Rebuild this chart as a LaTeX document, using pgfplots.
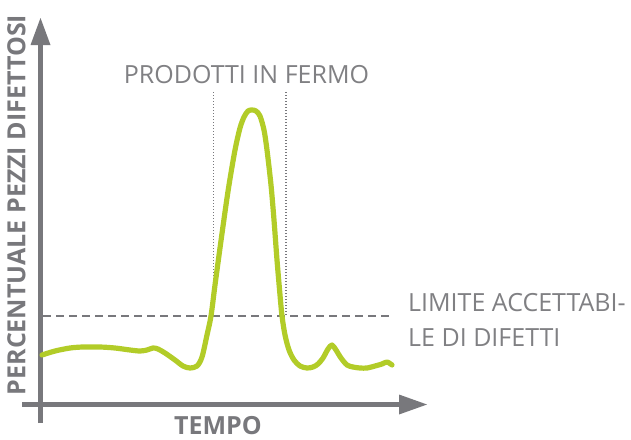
\documentclass[border=0pt]{standalone}
\usepackage{fontspec}
\setmainfont{Open Sans}
\usepackage{pgfplots}
\pgfplotsset{compat=1.18}
\definecolor{axgray}{RGB}{120,120,124}
\definecolor{txtgray}{RGB}{128,128,131}
\definecolor{lime}{RGB}{178,204,40}
\begin{document}
\begin{tikzpicture}
\begin{axis}[
  x=1pt, y=1pt,
  scale only axis,
  xmin=0, xmax=631, ymin=0, ymax=439,
  y dir=reverse,
  hide axis,
  clip=false,
]
\coordinate (ll) at (axis cs:0,439);
\coordinate (ur) at (axis cs:631,0);
% dotted lines
\draw[axgray, line width=1.6pt, dash pattern=on 1.4pt off 1.6pt] (axis cs:213.5,92) -- (axis cs:213.5,316);
\draw[axgray, line width=1.6pt, dash pattern=on 1.4pt off 1.6pt] (axis cs:285.7,92) -- (axis cs:285.7,316);
% dashed limit
\draw[axgray, line width=2.7pt, dash pattern=on 8pt off 5pt] (axis cs:43,316) -- (axis cs:393,316);
% axes
\draw[axgray, line width=5pt] (axis cs:22,404.5) -- (axis cs:401,404.5);
\fill[axgray] (axis cs:399,394.5) -- (axis cs:427,404.5) -- (axis cs:399,414.5) -- cycle;
\draw[axgray, line width=5pt] (axis cs:40.5,423) -- (axis cs:40.5,43);
\fill[axgray] (axis cs:30.5,45) -- (axis cs:40.5,18) -- (axis cs:50.5,45) -- cycle;
% curve
\addplot[lime, line width=5.2pt, smooth, tension=0.5, line cap=round, line join=round] coordinates {
(42,355) (55,351) (70,348) (83,347) (100,347) (115,348) (130,350) (140,351)
(147,350) (153,348) (158,349) (165,353) (175,360) (183,366) (190,368) (197,366)
(202,357) (207,335) (211,316) (215,285) (220,248) (225,212) (229,185) (235,150)
(240,128) (244,117) (248,111) (252,110) (256,111) (260,116) (264,130) (267,150)
(271,185) (274,220) (277,260) (280,295) (282,316) (285,335) (289,350) (294,360)
(300,366) (307,368) (313,367) (318,364) (323,358) (328,349) (332,345) (336,350)
(341,358) (347,365) (353,367) (360,368) (367,368) (375,366) (382,364) (387,362) (392,365)
};
% texts
\node[txtgray, inner sep=0pt, anchor=center, font=\fontsize{25}{30}\selectfont] at (axis cs:246.5,75) {PRODOTTI IN FERMO};
\node[txtgray, inner sep=0pt, anchor=west, font=\fontsize{25}{30}\selectfont] at (axis cs:408,302.5) {LIMITE ACCETTABI-};
\node[txtgray, inner sep=0pt, anchor=west, font=\fontsize{25}{30}\selectfont] at (axis cs:408,337.5) {LE DI DIFETTI};
\node[axgray, inner sep=0pt, anchor=center, font=\bfseries\fontsize{25}{30}\selectfont] at (axis cs:218,426) {TEMPO};
\node[axgray, inner sep=0pt, anchor=center, rotate=90, font=\bfseries\fontsize{25}{30}\selectfont] at (axis cs:16.5,205) {PERCENTUALE PEZZI DIFETTOSI};
\end{axis}
\pgfresetboundingbox
\path (ll) rectangle (ur);
\end{tikzpicture}
\end{document}
